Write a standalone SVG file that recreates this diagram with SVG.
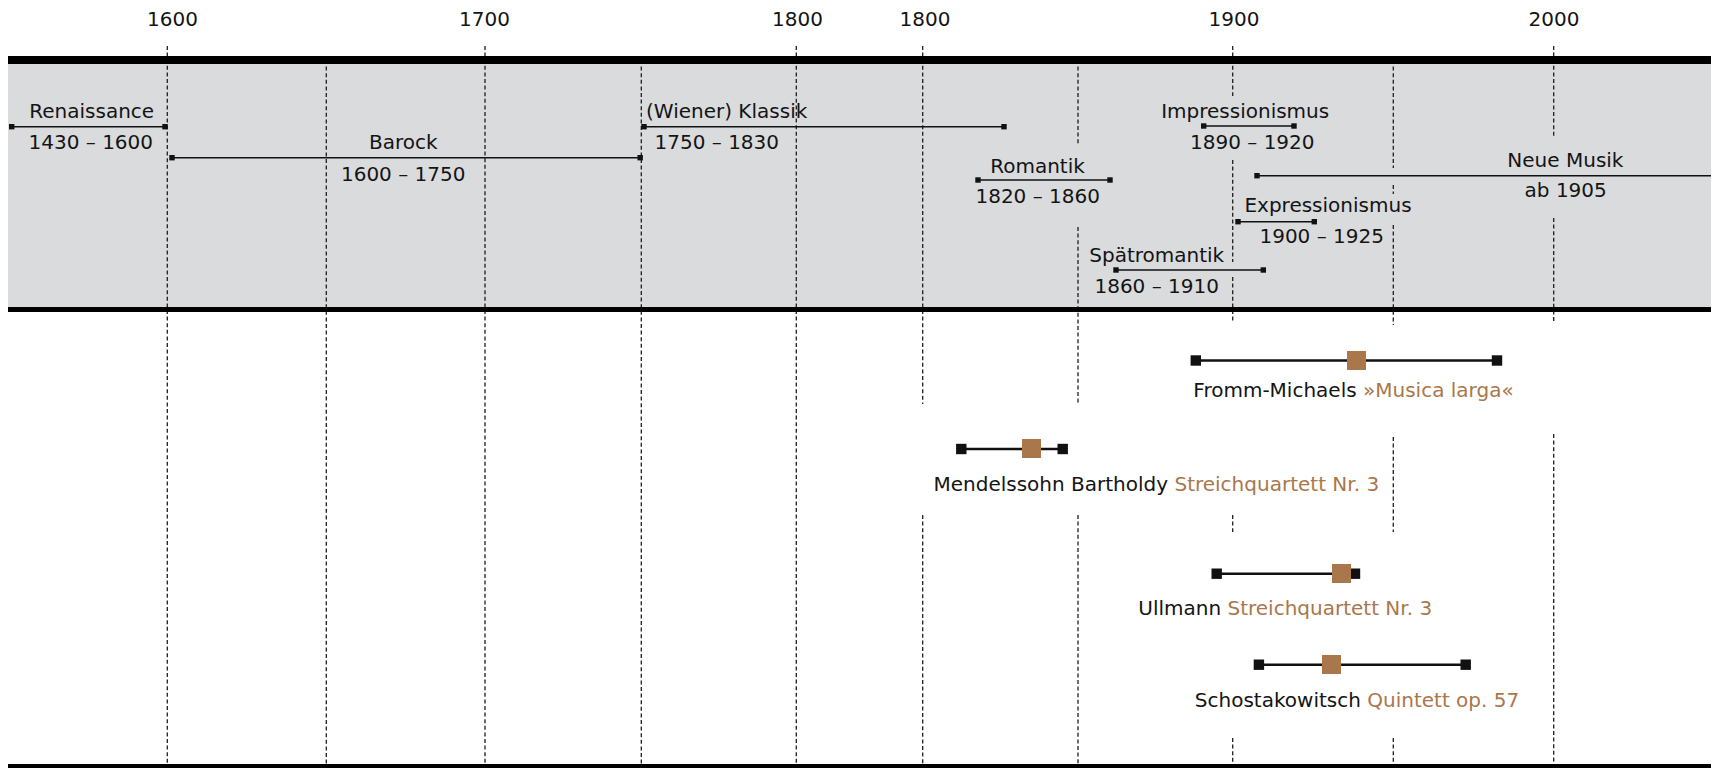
<svg xmlns="http://www.w3.org/2000/svg" width="1717" height="768" viewBox="0 0 1717 768">
<style>
.t{font-family:"DejaVu Sans","Liberation Sans",sans-serif;font-size:20px;fill:#141414}
.b{fill:#a9774b}
.grid line{stroke:#1e1e1e;stroke-width:1.3;stroke-dasharray:4 2.6;fill:none}
.br{stroke:#111;stroke-width:1.5;marker-start:url(#sq);marker-end:url(#sq)}
.wl{stroke:#111;stroke-width:2.6;marker-start:url(#SQ);marker-end:url(#SQ)}
.mid{fill:#a9774b}
</style>
<defs>
<marker id="sq" markerUnits="userSpaceOnUse" markerWidth="6" markerHeight="6" refX="2.7" refY="2.7" overflow="visible"><rect width="5.4" height="5.4" fill="#111"/></marker>
<marker id="SQ" markerUnits="userSpaceOnUse" markerWidth="11" markerHeight="11" refX="5.2" refY="5.2" overflow="visible"><rect width="10.4" height="10.4" fill="#111"/></marker>
</defs>
<rect x="0" y="0" width="1717" height="768" fill="#fff"/>
<rect x="8" y="64" width="1703" height="243" fill="#dadbdd"/>
<g id="grid" class="grid">
<line x1="167.3" y1="46" x2="167.3" y2="765"/>
<line x1="326.3" y1="60" x2="326.3" y2="765"/>
<line x1="485" y1="46" x2="485" y2="765"/>
<line x1="641.3" y1="60" x2="641.3" y2="765"/>
<line x1="796.3" y1="46" x2="796.3" y2="765"/>
<line x1="922.7" y1="46" x2="922.7" y2="404"/>
<line x1="922.7" y1="515" x2="922.7" y2="765"/>
<line x1="1078" y1="60" x2="1078" y2="145"/>
<line x1="1078" y1="227" x2="1078" y2="404"/>
<line x1="1078" y1="515" x2="1078" y2="765"/>
<line x1="1232.7" y1="46" x2="1232.7" y2="96"/>
<line x1="1232.7" y1="160" x2="1232.7" y2="262"/>
<line x1="1232.7" y1="277" x2="1232.7" y2="323"/>
<line x1="1232.7" y1="515" x2="1232.7" y2="532"/>
<line x1="1232.7" y1="738" x2="1232.7" y2="765"/>
<line x1="1393.3" y1="60" x2="1393.3" y2="168"/>
<line x1="1393.3" y1="185" x2="1393.3" y2="194"/>
<line x1="1393.3" y1="225" x2="1393.3" y2="325"/>
<line x1="1393.3" y1="437" x2="1393.3" y2="532"/>
<line x1="1393.3" y1="738" x2="1393.3" y2="765"/>
<line x1="1553.7" y1="46" x2="1553.7" y2="137"/>
<line x1="1553.7" y1="218" x2="1553.7" y2="323"/>
<line x1="1553.7" y1="434" x2="1553.7" y2="765"/>
</g>
<rect x="8" y="56" width="1703" height="8" fill="#000"/>
<rect x="8" y="307" width="1703" height="5" fill="#000"/>
<rect x="8" y="764" width="1703" height="5" fill="#000"/>
<g id="axis" class="t" text-anchor="middle">
<text x="172.5" y="26">1600</text>
<text x="484.5" y="26">1700</text>
<text x="797.5" y="26">1800</text>
<text x="925" y="26">1800</text>
<text x="1234" y="26">1900</text>
<text x="1554" y="26">2000</text>
</g>
<g id="epoch-renaissance">
<line class="br" x1="11.7" y1="126.7" x2="165" y2="126.7"/>
<text class="t" x="91.7" y="118.3" text-anchor="middle">Renaissance</text>
<text class="t" x="90.8" y="149" text-anchor="middle">1430 – 1600</text>
</g>
<g id="epoch-barock">
<line class="br" x1="172" y1="157.7" x2="640.2" y2="157.7"/>
<text class="t" x="403.3" y="149" text-anchor="middle">Barock</text>
<text class="t" x="403.2" y="181" text-anchor="middle">1600 – 1750</text>
</g>
<g id="epoch-klassik">
<line class="br" x1="644" y1="126.7" x2="1004" y2="126.7"/>
<text class="t" x="646" y="118.3">(Wiener) Klassik</text>
<text class="t" x="716.8" y="149" text-anchor="middle">1750 – 1830</text>
</g>
<g id="epoch-romantik">
<line class="br" x1="978" y1="180" x2="1110" y2="180"/>
<text class="t" x="1037.5" y="172.7" text-anchor="middle">Romantik</text>
<text class="t" x="1037.7" y="203.3" text-anchor="middle">1820 – 1860</text>
</g>
<g id="epoch-impressionismus">
<line class="br" x1="1203.7" y1="126" x2="1294" y2="126"/>
<text class="t" x="1245.2" y="118.3" text-anchor="middle">Impressionismus</text>
<text class="t" x="1252.3" y="149" text-anchor="middle">1890 – 1920</text>
</g>
<g id="epoch-neue-musik">
<line class="br" x1="1257" y1="175.7" x2="1711" y2="175.7" style="marker-end:none"/>
<text class="t" x="1565.4" y="166.7" text-anchor="middle">Neue Musik</text>
<text class="t" x="1565.7" y="196.7" text-anchor="middle">ab 1905</text>
</g>
<g id="epoch-expressionismus">
<line class="br" x1="1238" y1="221.7" x2="1314.3" y2="221.7"/>
<text class="t" x="1328" y="211.7" text-anchor="middle">Expressionismus</text>
<text class="t" x="1321.7" y="242.7" text-anchor="middle">1900 – 1925</text>
</g>
<g id="epoch-spaetromantik">
<line class="br" x1="1116" y1="270" x2="1263.3" y2="270"/>
<text class="t" x="1156.7" y="261.7" text-anchor="middle">Spätromantik</text>
<text class="t" x="1156.7" y="292.7" text-anchor="middle">1860 – 1910</text>
</g>
<g id="work-fromm-michaels">
<line class="wl" x1="1195.8" y1="360.5" x2="1497" y2="360.5"/>
<rect class="mid" x="1347" y="351" width="19" height="19"/>
<text class="t" x="1353.5" y="397.3" text-anchor="middle">Fromm-Michaels <tspan class="b">»Musica larga«</tspan></text>
</g>
<g id="work-mendelssohn">
<line class="wl" x1="961.3" y1="449" x2="1062.7" y2="449"/>
<rect class="mid" x="1022" y="439" width="19" height="19"/>
<text class="t" x="1156.3" y="490.7" text-anchor="middle">Mendelssohn Bartholdy <tspan class="b">Streichquartett Nr. 3</tspan></text>
</g>
<g id="work-ullmann">
<line class="wl" x1="1216.7" y1="573.7" x2="1355" y2="573.7"/>
<rect class="mid" x="1332" y="564" width="19" height="19"/>
<text class="t" x="1285.2" y="615" text-anchor="middle">Ullmann <tspan class="b">Streichquartett Nr. 3</tspan></text>
</g>
<g id="work-schostakowitsch">
<line class="wl" x1="1258.9" y1="664.7" x2="1465.7" y2="664.7"/>
<rect class="mid" x="1322" y="655" width="19" height="19"/>
<text class="t" x="1357" y="707.3" text-anchor="middle">Schostakowitsch <tspan class="b">Quintett op. 57</tspan></text>
</g>
</svg>
